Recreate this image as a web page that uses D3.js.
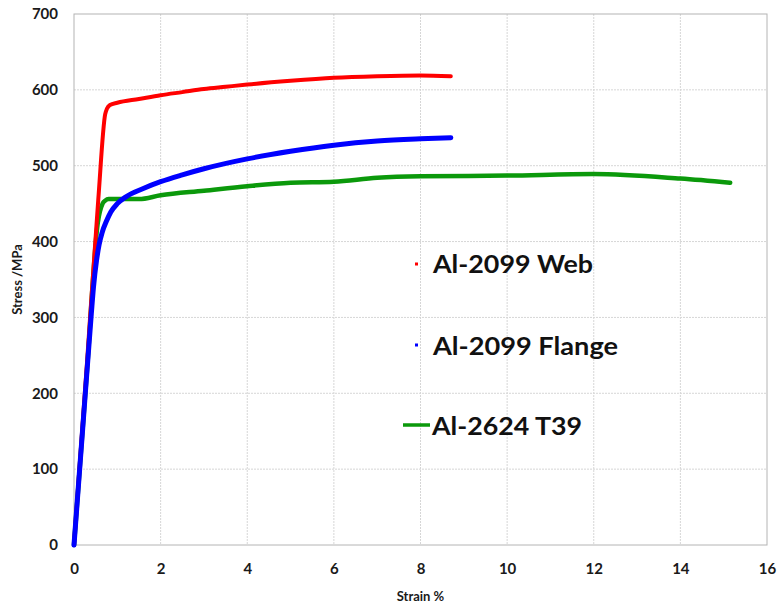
<!DOCTYPE html>
<html>
<head>
<meta charset="utf-8">
<script src="https://cdn.jsdelivr.net/npm/d3@7"></script>
<style>
  html, body { margin: 0; padding: 0; background: #fff; }
  svg { display: block; }
  .tick text { font-family: Lato, "Open Sans", sans-serif; font-weight: bold; fill: #1a1a1a; }
</style>
</head>
<body>
<svg id="chart" width="778" height="605"></svg>
<script>
// Tensile curves: strain (%) vs engineering stress (MPa)
const webStrain    = [0, 0.3, 0.56, 0.72, 0.76, 0.83, 1.0, 1.5, 2.0, 2.5, 3.0, 3.5, 4.0, 5.0, 6.0, 7.0, 8.0, 8.7];
const webStress    = [0, 240, 455, 568, 575, 580, 583, 588, 593, 597, 601, 604, 607, 612, 616, 618, 619, 618];

const flangeStrain = [0, 0.2, 0.4, 0.45, 0.52, 0.58, 0.65, 0.75, 0.85, 1.0, 1.2, 1.6, 2.0, 2.5, 3.0, 4.0, 5.0, 6.0, 7.0, 8.0, 8.7];
const flangeStress = [0, 153, 305, 340, 375, 396, 412, 427, 439, 450, 459, 470, 479, 488, 496, 509, 519, 527, 532.5, 535.5, 537];

const t39Strain    = [0, 0.3, 0.55, 0.66, 0.72, 0.8, 1.0, 1.5, 2.0, 3.0, 4.0, 5.0, 6.0, 7.0, 8.0, 10.0, 12.0, 14.0, 15.15];
const t39Stress    = [0, 230, 425, 450, 454, 456, 456, 456, 461, 467, 473, 477.6, 479, 484, 486, 487, 489, 483, 477.6];

const seriesNames  = ["Al-2099 Web", "Al-2099 Flange", "Al-2624 T39"];
const xTicks = [0, 2, 4, 6, 8, 10, 12, 14, 16];
const yTicks = [0, 100, 200, 300, 400, 500, 600, 700];
const xTitle = "Strain %";
const yTitle = "Stress /MPa";

const svg = d3.select("#chart");
const plotLeft = 74, plotRight = 767, plotTop = 14, plotBottom = 545;

const x = d3.scaleLinear().domain([0, 16]).range([plotLeft, plotRight]);
const y = d3.scaleLinear().domain([0, 700]).range([plotBottom, plotTop]);

// gridlines
const grid = svg.append("g");
grid.selectAll("line.gx").data(xTicks.slice(1, -1)).join("line")
  .attr("x1", d => x(d)).attr("x2", d => x(d))
  .attr("y1", plotTop).attr("y2", plotBottom)
  .attr("stroke", "#d6d6d6").attr("stroke-width", 1).attr("stroke-dasharray", "2,1");
grid.selectAll("line.gy").data(yTicks.slice(1, -1)).join("line")
  .attr("x1", plotLeft).attr("x2", plotRight)
  .attr("y1", d => y(d)).attr("y2", d => y(d))
  .attr("stroke", "#d6d6d6").attr("stroke-width", 1).attr("stroke-dasharray", "2,1");

// plot frame
svg.append("rect")
  .attr("x", plotLeft).attr("y", plotTop)
  .attr("width", plotRight - plotLeft).attr("height", plotBottom - plotTop)
  .attr("fill", "none").attr("stroke", "#b4b4b4").attr("stroke-width", 1);

// axes
const xAxis = svg.append("g").attr("transform", `translate(0,${plotBottom})`)
  .call(d3.axisBottom(x).tickValues(xTicks).tickSize(0).tickPadding(18).tickFormat(d3.format("d")));
xAxis.select(".domain").remove();
xAxis.selectAll(".tick text").attr("font-size", 15);

const yAxis = svg.append("g").attr("transform", `translate(${plotLeft},0)`)
  .call(d3.axisLeft(y).tickValues(yTicks).tickSize(0).tickPadding(16).tickFormat(d3.format("d")));
yAxis.select(".domain").remove();
yAxis.selectAll(".tick text").attr("font-size", 15);

// axis titles
svg.append("text")
  .attr("x", (plotLeft + plotRight) / 2).attr("y", 601)
  .attr("text-anchor", "middle")
  .attr("font-family", "Lato, 'Open Sans', sans-serif").attr("font-weight", "bold")
  .attr("font-size", 13).attr("fill", "#1a1a1a")
  .text(xTitle);
svg.append("text")
  .attr("transform", `translate(22,${(plotTop + plotBottom) / 2}) rotate(-90)`)
  .attr("text-anchor", "middle")
  .attr("font-family", "Lato, 'Open Sans', sans-serif").attr("font-weight", "bold")
  .attr("font-size", 13).attr("fill", "#1a1a1a")
  .text(yTitle);

// curves
const line = d3.line().x(d => x(d[0])).y(d => y(d[1])).curve(d3.curveMonotoneX);
const zip = (a, b) => a.map((v, i) => [v, b[i]]);

const series = [
  { name: seriesNames[2], pts: zip(t39Strain, t39Stress), color: "#0b990b", width: 4.5 },
  { name: seriesNames[0], pts: zip(webStrain, webStress), color: "#ff0000", width: 4 },
  { name: seriesNames[1], pts: zip(flangeStrain, flangeStress), color: "#0000ff", width: 5 }
];

svg.append("g").selectAll("path").data(series).join("path")
  .attr("d", d => line(d.pts))
  .attr("fill", "none")
  .attr("stroke", d => d.color)
  .attr("stroke-width", d => d.width)
  .attr("stroke-linejoin", "round")
  .attr("stroke-linecap", "round");

// legend
const legend = svg.append("g");
const legendText = (tx, ty, label, len) => legend.append("text")
  .attr("x", tx).attr("y", ty)
  .attr("font-family", "Lato, 'Open Sans', sans-serif").attr("font-weight", "bold")
  .attr("font-size", 25).attr("fill", "#111")
  .attr("textLength", len).attr("lengthAdjust", "spacingAndGlyphs")
  .text(label);
// Web: small dot marker
legend.append("rect").attr("x", 415).attr("y", 262.5).attr("width", 3).attr("height", 3).attr("fill", "#ff0000");
legendText(433, 273, seriesNames[0], 160);
// Flange: small dot marker
legend.append("rect").attr("x", 415).attr("y", 343.5).attr("width", 3).attr("height", 3).attr("fill", "#0000ff");
legendText(433, 355, seriesNames[1], 185);
// T39: line marker
legend.append("line").attr("x1", 403).attr("x2", 430).attr("y1", 425).attr("y2", 425)
  .attr("stroke", "#0b990b").attr("stroke-width", 3.5);
legendText(432, 435, seriesNames[2], 150);
</script>
</body>
</html>
